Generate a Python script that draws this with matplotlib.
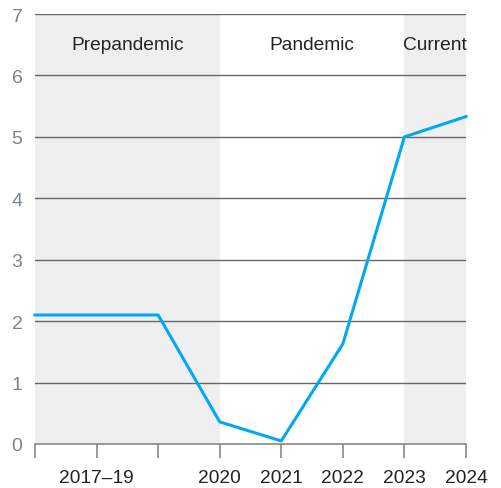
import matplotlib
matplotlib.use("Agg")
import matplotlib.pyplot as plt

plt.rcParams['font.family'] = ['Liberation Sans', 'DejaVu Sans']

x_pos = [0, 1, 2, 3, 4, 5, 6, 7]
values = [2.1, None, 2.1, 0.36, 0.05, 1.63, 5.0, 5.33]
tick_labels = ["", "2017–19", "", "2020", "2021", "2022", "2023", "2024"]
periods = ["Prepandemic", "Pandemic", "Current"]
period_spans = [(0, 3), (3, 6), (6, 7)]
period_shaded = [True, False, True]

xs = [x for x, v in zip(x_pos, values) if v is not None]
ys = [v for v in values if v is not None]

fig = plt.figure(figsize=(5.02, 4.89), dpi=100)
ax = fig.add_axes([35/502, 44/489, 431/502, 430/489])

for (a, b), shaded in zip(period_spans, period_shaded):
    if shaded:
        ax.axvspan(a, b, color='#efefef', lw=0, zorder=0)

for y in range(1, 8):
    ax.axhline(y, color='#666666', lw=1.0, zorder=1)

ax.plot(xs, ys, color='#00a9f4', lw=2.2, zorder=3, clip_on=False)

for name, (a, b) in zip(periods, period_spans):
    ax.text((a + b) / 2, 6.51, name, ha='center', va='center', fontsize=13.8,
            color='#222222', zorder=4)

ax.set_xlim(0, 7)
ax.set_ylim(0, 7)
ax.set_xticks(x_pos)
ax.set_xticklabels(tick_labels)
ax.set_yticks(range(0, 8))
for s in ['top', 'right', 'left']:
    ax.spines[s].set_visible(False)
ax.spines['bottom'].set_color('#888888')
ax.spines['bottom'].set_linewidth(1.2)
ax.tick_params(axis='x', length=10, width=1.2, color='#888888', labelsize=13.8,
               labelcolor='#222222', pad=8)
ax.tick_params(axis='y', length=0, labelsize=14, labelcolor='#7a8591', pad=9)

fig.savefig("out.png", dpi=100)
